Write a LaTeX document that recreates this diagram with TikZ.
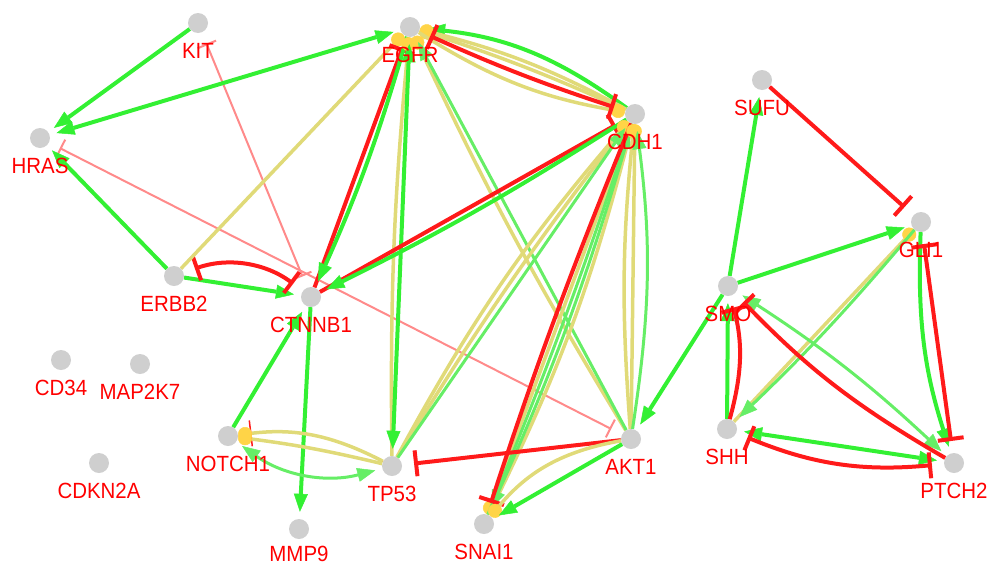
\documentclass[tikz,border=0pt]{standalone}
\usepackage{fontspec}
\setmainfont{Liberation Sans}[FakeStretch=0.93]
\definecolor{netGray}{HTML}{CFCFCF}
\definecolor{netGreen}{HTML}{33F033}
\definecolor{netLime}{HTML}{66EE66}
\definecolor{netRed}{HTML}{FF1A1A}
\definecolor{netPink}{HTML}{FF8A8A}
\definecolor{netKhaki}{HTML}{E0DA78}
\definecolor{netGold}{HTML}{FFD447}
\definecolor{netLabel}{HTML}{FF0000}
\usetikzlibrary{positioning,arrows.meta}

\tikzset{
  gtip/.tip={Triangle[length=18pt, width=14pt, line width=0.5pt]},
  rbar/.tip={Bar[width=26pt]},
  pbar/.tip={Bar[width=20pt]},
  ydot/.tip={Circle[length=14pt, line width=0.5pt, color=netGold]},
  gene/.style={circle, fill=netGray, minimum size=20pt, inner sep=0pt},
  glabel/.style={text=netLabel, inner sep=0pt, font=\fontsize{22}{22}\selectfont},
  act/.style={draw=netGreen, line width=4pt, shorten >=7pt, -gtip},
  actb/.style={draw=netGreen, line width=4pt, shorten >=7pt, shorten <=7pt, gtip-gtip},
  actl/.style={draw=netLime, line width=3pt, shorten >=7pt, -gtip},
  actlb/.style={draw=netLime, line width=3pt, shorten >=7pt, shorten <=7pt, gtip-gtip},
  inh/.style={draw=netRed, line width=4pt, shorten >=12pt, -rbar},
  inhb/.style={draw=netRed, line width=4pt, shorten >=12pt, shorten <=12pt, rbar-rbar},
  inhp/.style={draw=netPink, line width=2pt, shorten >=12pt, shorten <=12pt, pbar-pbar},
  bind/.style={draw=netKhaki, line width=3.5pt, -ydot},
}

\begin{document}
\begin{tikzpicture}[x=1pt, y=1pt]
  \useasboundingbox (0,0) rectangle (992,-568);
  % genes
  \node[gene] (kit) at (198,-23) {};
  \node[gene] (egfr) at (410,-27) {};
  \node[gene] (hras) at (40,-138) {};
  \node[gene] (cdh1) at (635,-114) {};
  \node[gene] (sufu) at (762,-80) {};
  \node[gene] (gli1) at (921,-222) {};
  \node[gene] (erbb2) at (174,-276) {};
  \node[gene] (ctnnb1) at (311,-297) {};
  \node[gene] (smo) at (728,-286) {};
  \node[gene] (cd34) at (61,-360) {};
  \node[gene] (map2k7) at (140,-364) {};
  \node[gene] (notch1) at (228,-436) {};
  \node[gene] (tp53) at (392,-466) {};
  \node[gene] (akt1) at (631,-439) {};
  \node[gene] (shh) at (727,-429) {};
  \node[gene] (ptch2) at (954,-463) {};
  \node[gene] (cdkn2a) at (99,-463) {};
  \node[gene] (mmp9) at (299,-529) {};
  \node[gene] (snai1) at (484,-524) {};

  % left part
  \draw[inhp] (ctnnb1) -- (kit);
  \draw[inhp] (hras) -- (akt1);
  \draw[act] (kit) -- (hras);
  \draw[actb] (egfr) -- (hras);
  \draw[act] (erbb2) -- (hras);
  \draw[act] (erbb2) -- (ctnnb1);
  \draw[inhb] (erbb2) to[bend left=28] (ctnnb1);
  \draw[bind] (erbb2) -- (egfr);
  \draw[inh] (ctnnb1) -- (egfr);
  \draw[act] (egfr) to[bend left=4] (ctnnb1);
  \draw[act] (notch1) -- (ctnnb1);
  \draw[act] (ctnnb1) -- (mmp9);

  % EGFR and CDH1
  \draw[bind] (tp53) to[bend left=3] (egfr);
  \draw[actb] (tp53) -- (egfr);
  \draw[bind] (akt1) to[bend left=3] (egfr);
  \draw[actl] (akt1) -- (egfr);
  \draw[act] (cdh1) to[bend right=15] (egfr);
  \draw[bind] (cdh1) to[bend right=7] (egfr);
  \draw[bind] (cdh1) to[bend right=3] (egfr);
  \draw[bind] (egfr) to[bend right=11] (cdh1);
  \draw[inhb] (egfr) to[bend right=3] (cdh1);
  \draw[inh] (ctnnb1) -- (cdh1);
  \draw[act] (cdh1) to[bend left=3] (ctnnb1);
  \draw[bind] (tp53) to[bend left=6] (cdh1);
  \draw[bind] (tp53) to[bend left=3] (cdh1);
  \draw[actl] (tp53) -- (cdh1);
  \draw[bind] (cdh1) -- (snai1);
  \draw[bind] (cdh1) to[bend left=6] (snai1);
  \draw[actl] (snai1) to[bend right=2] (cdh1);
  \draw[actl] (cdh1) to[bend left=4] (snai1);
  \draw[inh] (cdh1) to[bend right=2] (snai1);
  \draw[bind] (akt1) -- (cdh1);
  \draw[bind] (akt1) to[bend left=5] (cdh1);
  \draw[actl] (akt1) to[bend right=8] (cdh1);

  % TP53, NOTCH1, AKT1, SNAI1
  \draw[draw=netRed, line width=1.5pt, shorten >=12pt, -rbar] (tp53) to[bend right=17] (notch1);
  \draw[bind] (tp53) to[bend right=17] (notch1);
  \draw[bind] (tp53) to[bend right=3] (notch1);
  \draw[actlb] (notch1) to[bend right=25] (tp53);
  \draw[inh] (akt1) -- (tp53);
  \draw[bind] (akt1) to[bend right=20] (snai1);
  \draw[act] (akt1) -- (snai1);

  % hedgehog part
  \draw[inh] (sufu) -- (gli1);
  \draw[act] (smo) -- (sufu);
  \draw[act] (smo) -- (gli1);
  \draw[act] (smo) -- (akt1);
  \draw[bind] (shh) -- (gli1);
  \draw[actl] (gli1) to[bend left=3] (shh);
  \draw[act] (gli1) to[bend right=10] (ptch2);
  \draw[inhb] (gli1) -- (ptch2);
  \draw[act] (shh) -- (smo);
  \draw[inh] (shh) to[bend right=15] (smo);
  \draw[actlb] (ptch2) to[bend right=5] (smo);
  \draw[inh] (ptch2) to[bend left=8] (smo);
  \draw[actb] (shh) -- (ptch2);
  \draw[inhb] (shh) to[bend right=14] (ptch2);

  % names
  \node[glabel, below=10pt of kit] {KIT};
  \node[glabel, below=10pt of egfr] {EGFR};
  \node[glabel, below=10pt of hras] {HRAS};
  \node[glabel, below=10pt of cdh1] {CDH1};
  \node[glabel, below=10pt of sufu] {SUFU};
  \node[glabel, below=10pt of gli1] {GLI1};
  \node[glabel, below=10pt of erbb2] {ERBB2};
  \node[glabel, below=10pt of ctnnb1] {CTNNB1};
  \node[glabel, below=10pt of smo] {SMO};
  \node[glabel, below=10pt of cd34] {CD34};
  \node[glabel, below=10pt of map2k7] {MAP2K7};
  \node[glabel, below=10pt of notch1] {NOTCH1};
  \node[glabel, below=10pt of tp53] {TP53};
  \node[glabel, below=10pt of akt1] {AKT1};
  \node[glabel, below=10pt of shh] {SHH};
  \node[glabel, below=10pt of ptch2] {PTCH2};
  \node[glabel, below=10pt of cdkn2a] {CDKN2A};
  \node[glabel, below=7pt of mmp9] {MMP9};
  \node[glabel, below=10pt of snai1] {SNAI1};
\end{tikzpicture}
\end{document}
